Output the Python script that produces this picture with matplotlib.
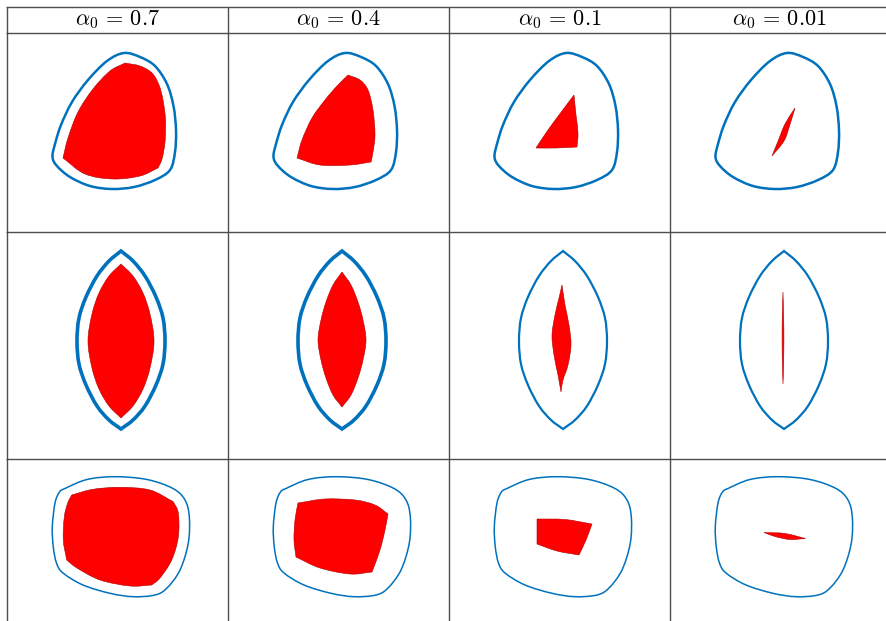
import numpy as np
import matplotlib
matplotlib.use("Agg")
import matplotlib.pyplot as plt
from matplotlib.path import Path
from matplotlib.patches import PathPatch

plt.rcParams['mathtext.fontset'] = 'cm'

# ---------------- data ----------------
alpha_labels = ["0.7", "0.4", "0.1", "0.01"]
col_edges = [7, 228, 449, 670, 888]
row_edges = [7, 33, 232, 459]
col_shift = [0, 221, 442, 663]

# blue outer outlines (template in first-column pixel coords); 3rd item 1 = sharp corner
blue_row1 = [(124, 53), (140, 57), (155, 66), (167, 84), (173.5, 106), (176, 130), (175, 152),
             (170, 170), (155, 180), (134, 187), (112, 189), (90, 186), (70, 177), (57, 166),
             (52.5, 157), (55, 144), (61, 125), (72, 102), (88, 80), (107, 61)]
blue_row2 = [(121, 251, 1), (133, 261), (145, 276), (156, 297), (163, 318), (165, 341), (163, 364),
             (156, 385), (145, 406), (133, 420), (121, 429, 1), (109, 420), (97, 406), (86, 385),
             (79, 364), (77, 341), (79, 318), (86, 297), (97, 276), (109, 261)]
blue_row3 = [(65, 488.5), (87, 479.5), (115, 476.7), (147, 479.5), (173, 488.5), (185, 500),
             (189.3, 517), (188.3, 543), (180, 570), (167, 588), (155, 595), (133, 596.7),
             (110, 593.3), (83, 585), (63, 573), (56.5, 563), (53.3, 547), (52.3, 527),
             (55, 503), (59.5, 492)]
blue_templates = [blue_row1, blue_row2, blue_row3]
blue_widths = [[1.8, 1.8, 1.8, 1.8], [2.6, 2.6, 1.6, 1.6], [1.1, 1.1, 1.1, 1.1]]

# red inner regions, in absolute pixel coords
red_r1c1 = [(125, 63, 1), (140, 66), (152, 73), (159, 85), (163, 100), (165.5, 120), (165, 142),
            (162, 159), (158, 168, 1), (140, 176), (113, 179), (85, 174), (63, 158, 1), (68, 138),
            (78, 112), (93, 89), (110, 71)]
red_r1c2 = [(348, 75, 1), (360, 80), (368, 90), (373, 110), (375, 135), (373, 152), (371, 162, 1),
            (350, 165), (320, 165), (297, 158, 1), (302, 140), (312, 118), (325, 100), (337, 86)]
red_r1c3 = [(574, 95, 1), (576, 115), (578, 133), (577, 147, 1), (556, 148), (536, 148, 1),
            (548, 130), (562, 111)]
red_r1c4 = [(795, 108, 1), (789.5, 126), (784, 141), (772, 156, 1), (778.5, 140), (785, 124)]

red_r2c1 = [(121, 264, 1), (133, 276), (143, 293), (150, 314), (154, 341), (150, 368), (143, 389),
            (133, 406), (121, 418, 1), (109, 406), (99, 389), (92, 368), (88, 341), (92, 314),
            (99, 293), (109, 276)]
red_r2c2 = [(342, 272, 1), (351, 285), (358, 302), (363, 320), (366, 340), (363, 360), (358, 378),
            (351, 395), (342, 407, 1), (333, 395), (326, 378), (321, 360), (318, 340), (321, 320),
            (326, 302), (333, 285)]
red_r2c3 = [(562, 285, 1), (565, 305), (569, 325), (571, 345), (568, 365), (563, 380), (561, 392, 1),
            (558, 375), (554, 355), (552, 335), (555, 315), (559, 298)]
red_r2c4 = [(783, 292, 1), (783.7, 320), (783.9, 340), (783.6, 365), (783, 384, 1), (782.4, 365),
            (782.1, 340), (782.3, 315)]

red_r3c1 = [(71.7, 495, 1), (93, 489.3), (120, 487.3), (150, 490), (173.3, 501.7, 1), (178.3, 513),
            (178.3, 537), (171.7, 560), (160, 578), (151.7, 585, 1), (130, 586), (100, 580),
            (77, 568), (66.7, 560, 1), (63.3, 540), (64.3, 517), (67.7, 503)]
red_r3c2 = [(298, 503, 1), (325, 499), (355, 500), (375, 505), (388, 514, 1), (385, 530), (380, 550),
            (372, 572, 1), (350, 574), (320, 568), (296, 557, 1), (294, 540), (295, 520)]
red_r3c3 = [(537, 519, 1), (565, 519.5), (592, 524, 1), (586, 540), (579, 555, 1), (557, 551),
            (537, 544, 1), (537, 530)]
red_r3c4 = [(764, 532.5, 1), (785, 533.5), (805.5, 538.5, 1), (790, 539.5), (775, 536.5)]

red_shapes = [[red_r1c1, red_r1c2, red_r1c3, red_r1c4],
              [red_r2c1, red_r2c2, red_r2c3, red_r2c4],
              [red_r3c1, red_r3c2, red_r3c3, red_r3c4]]

BLUE = '#0072BD'
RED = '#FF0000'
GRID = '#4d4d4d'


def closed_path(pts, dx=0.0):
    P = np.array([[p[0] + dx, p[1]] for p in pts], float)
    corner = [len(p) > 2 and p[2] == 1 for p in pts]
    n = len(P)
    tin = np.zeros_like(P)
    tout = np.zeros_like(P)
    for i in range(n):
        prv, nxt = P[i - 1], P[(i + 1) % n]
        if corner[i]:
            tin[i] = P[i] - prv
            tout[i] = nxt - P[i]
        else:
            t = (nxt - prv) / 2.0
            tin[i] = t
            tout[i] = t
    verts = [P[0]]
    codes = [Path.MOVETO]
    for i in range(n):
        j = (i + 1) % n
        verts += [P[i] + tout[i] / 3.0, P[j] - tin[j] / 3.0, P[j]]
        codes += [Path.CURVE4] * 3
    verts.append(P[0])
    codes.append(Path.CLOSEPOLY)
    return Path(verts, codes)


fig = plt.figure(figsize=(8.86, 6.21), dpi=100)
ax = fig.add_axes([0, 0, 1, 1])
ax.set_xlim(0, 886)
ax.set_ylim(621, 0)
ax.axis('off')

# table grid
for x in col_edges[:-1]:
    ax.plot([x, x], [row_edges[0], 621], color=GRID, lw=1.0, solid_capstyle='butt')
for y in row_edges:
    ax.plot([col_edges[0] - 0.5, 886], [y, y], color=GRID, lw=1.0, solid_capstyle='butt')

# headers
for c, lab in enumerate(alpha_labels):
    cx = (col_edges[c] + col_edges[c + 1]) / 2
    ax.text(cx, 20, r'$\alpha_0\,=\,' + lab + '$', ha='center', va='center', fontsize=16)

# shapes
for r in range(3):
    for c in range(4):
        ax.add_patch(PathPatch(closed_path(red_shapes[r][c]), facecolor=RED,
                               edgecolor='#b00000', lw=0.4, zorder=2))
        ax.add_patch(PathPatch(closed_path(blue_templates[r], col_shift[c]), facecolor='none',
                               edgecolor=BLUE, lw=blue_widths[r][c], zorder=3))

fig.savefig('out.png', dpi=100)
